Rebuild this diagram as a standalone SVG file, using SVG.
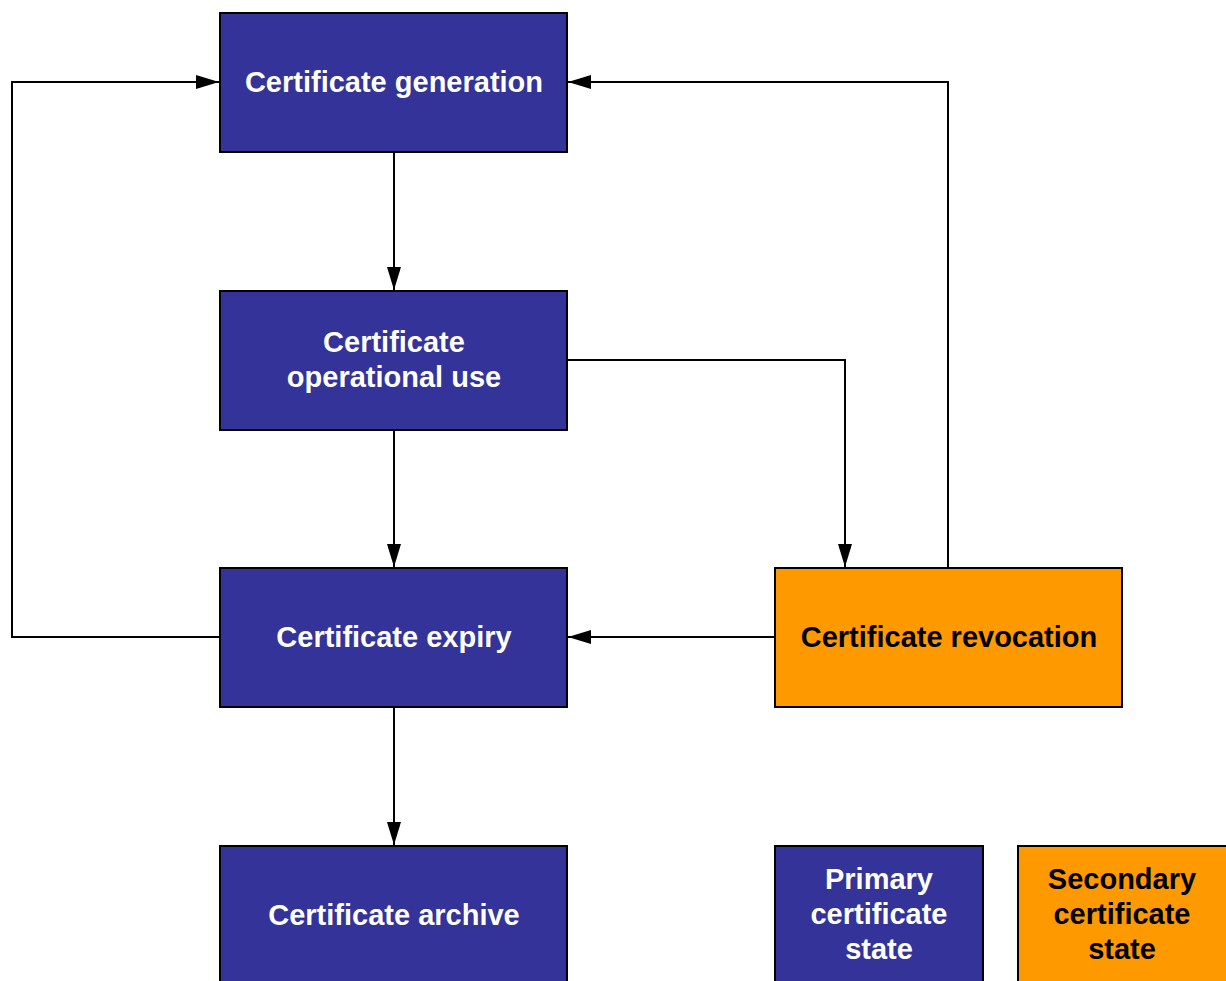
<svg xmlns="http://www.w3.org/2000/svg" width="1226" height="981" viewBox="0 0 1226 981">
<defs>
<marker id="arr" markerWidth="23" markerHeight="14" refX="23" refY="7" orient="auto" markerUnits="userSpaceOnUse">
<path d="M0,0 L23,7 L0,14 Z" fill="#000"/>
</marker>
<style>
.p{fill:#333399;stroke:#000;stroke-width:2}
.s{fill:#FF9900;stroke:#000;stroke-width:2}
.t{font-family:"Liberation Sans",Arial,sans-serif;font-weight:bold;font-size:29px;text-anchor:middle}
.w{fill:#fff}
.k{fill:#000}
.c{fill:none;stroke:#000;stroke-width:2;marker-end:url(#arr)}
</style>
</defs>
<rect width="1226" height="981" fill="#fff"/>
<g id="connectors">
<path class="c" d="M394,152 V290"/>
<path class="c" d="M394,430 V567"/>
<path class="c" d="M394,707 V845"/>
<path class="c" d="M220,637 H12 V82 H219"/>
<path class="c" d="M948,568 V82 H568"/>
<path class="c" d="M567,360 H845 V567"/>
<path class="c" d="M775,637 H568"/>
</g>
<g id="n_generation">
<rect class="p" x="220" y="13" width="347" height="139"/>
<text class="t w" x="394" y="92">Certificate generation</text>
</g>
<g id="n_operational">
<rect class="p" x="220" y="291" width="347" height="139"/>
<text class="t w" x="394" y="352">Certificate</text>
<text class="t w" x="394" y="387">operational use</text>
</g>
<g id="n_expiry">
<rect class="p" x="220" y="568" width="347" height="139"/>
<text class="t w" x="394" y="647">Certificate expiry</text>
</g>
<g id="n_archive">
<rect class="p" x="220" y="846" width="347" height="145"/>
<text class="t w" x="394" y="925">Certificate archive</text>
</g>
<g id="n_revocation">
<rect class="s" x="775" y="568" width="347" height="139"/>
<text class="t k" x="949" y="647">Certificate revocation</text>
</g>
<g id="legend_primary">
<rect class="p" x="775" y="846" width="208" height="145"/>
<text class="t w" x="879" y="889">Primary</text>
<text class="t w" x="879" y="924">certificate</text>
<text class="t w" x="879" y="959">state</text>
</g>
<g id="legend_secondary">
<rect class="s" x="1018" y="846" width="218" height="145"/>
<text class="t k" x="1122" y="889">Secondary</text>
<text class="t k" x="1122" y="924">certificate</text>
<text class="t k" x="1122" y="959">state</text>
</g>
</svg>
